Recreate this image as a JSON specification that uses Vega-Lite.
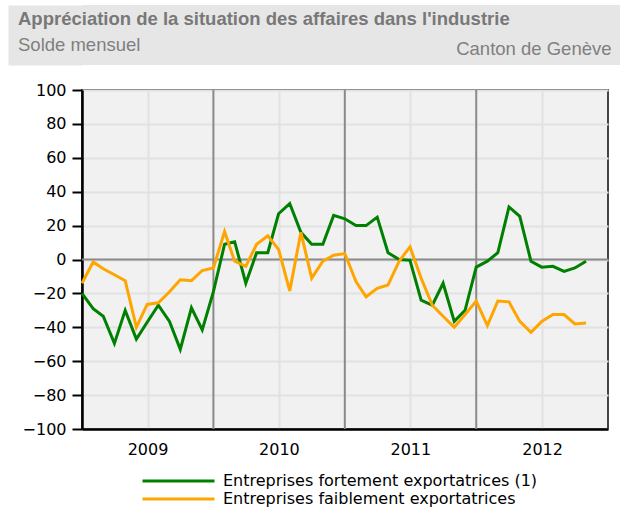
{
  "$schema": "https://vega.github.io/schema/vega-lite/v6.json",
  "padding": {"left": 10, "top": 2, "right": 0, "bottom": 0},
  "background": "white",
  "spacing": 16,
  "config": {
    "font": "DejaVu Sans",
    "view": {"stroke": null},
    "axis": {"labelOverlap": false}
  },
  "datasets": {
    "series": [
      {"mois": "2009-01-01", "fort": -20, "faible": -14},
      {"mois": "2009-02-01", "fort": -29, "faible": -1.5},
      {"mois": "2009-03-01", "fort": -33.5, "faible": -5.5},
      {"mois": "2009-04-01", "fort": -49.5, "faible": -9},
      {"mois": "2009-05-01", "fort": -30, "faible": -12.5},
      {"mois": "2009-06-01", "fort": -47, "faible": -40},
      {"mois": "2009-07-01", "fort": -37, "faible": -26.5},
      {"mois": "2009-08-01", "fort": -27, "faible": -25.5},
      {"mois": "2009-09-01", "fort": -36.5, "faible": -19},
      {"mois": "2009-10-01", "fort": -53, "faible": -12},
      {"mois": "2009-11-01", "fort": -28.5, "faible": -12.5},
      {"mois": "2009-12-01", "fort": -41.5, "faible": -6.5},
      {"mois": "2010-01-01", "fort": -19, "faible": -5},
      {"mois": "2010-02-01", "fort": 9, "faible": 16.5},
      {"mois": "2010-03-01", "fort": 10.5, "faible": -1},
      {"mois": "2010-04-01", "fort": -14, "faible": -4},
      {"mois": "2010-05-01", "fort": 4, "faible": 9},
      {"mois": "2010-06-01", "fort": 4, "faible": 14},
      {"mois": "2010-07-01", "fort": 27, "faible": 6},
      {"mois": "2010-08-01", "fort": 33, "faible": -18.5},
      {"mois": "2010-09-01", "fort": 16, "faible": 16},
      {"mois": "2010-10-01", "fort": 9, "faible": -11},
      {"mois": "2010-11-01", "fort": 9, "faible": -1},
      {"mois": "2010-12-01", "fort": 26, "faible": 2.5},
      {"mois": "2011-01-01", "fort": 24, "faible": 3.5},
      {"mois": "2011-02-01", "fort": 20, "faible": -13},
      {"mois": "2011-03-01", "fort": 20, "faible": -22},
      {"mois": "2011-04-01", "fort": 25, "faible": -17},
      {"mois": "2011-05-01", "fort": 4, "faible": -15},
      {"mois": "2011-06-01", "fort": 0, "faible": -1},
      {"mois": "2011-07-01", "fort": -0.5, "faible": 7.5},
      {"mois": "2011-08-01", "fort": -24, "faible": -11},
      {"mois": "2011-09-01", "fort": -27, "faible": -27},
      {"mois": "2011-10-01", "fort": -14, "faible": -33.5},
      {"mois": "2011-11-01", "fort": -36.5, "faible": -40},
      {"mois": "2011-12-01", "fort": -30, "faible": -32.5},
      {"mois": "2012-01-01", "fort": -4.5, "faible": -24.5},
      {"mois": "2012-02-01", "fort": -1, "faible": -39},
      {"mois": "2012-03-01", "fort": 4, "faible": -24.5},
      {"mois": "2012-04-01", "fort": 31, "faible": -25},
      {"mois": "2012-05-01", "fort": 25.5, "faible": -36.5},
      {"mois": "2012-06-01", "fort": -1, "faible": -43},
      {"mois": "2012-07-01", "fort": -4.5, "faible": -36.5},
      {"mois": "2012-08-01", "fort": -4, "faible": -32.5},
      {"mois": "2012-09-01", "fort": -7, "faible": -32.5},
      {"mois": "2012-10-01", "fort": -5, "faible": -38},
      {"mois": "2012-11-01", "fort": -1, "faible": -37.5}
    ]
  },
  "vconcat": [
    {
      "width": 540,
      "height": 60,
      "view": {"fill": "#e6e6e6", "stroke": null},
      "title": {
        "text": "Appréciation de la situation des affaires dans l'industrie",
        "subtitle": "Solde mensuel",
        "anchor": "start",
        "frame": "group",
        "orient": "top",
        "offset": -52,
        "dx": -64,
        "font": "Liberation Sans",
        "fontSize": 18.5,
        "fontWeight": "bold",
        "color": "#787878",
        "subtitleFont": "Liberation Sans",
        "subtitleFontSize": 18.5,
        "subtitleColor": "#808080",
        "subtitlePadding": 7.5
      },
      "data": {"values": [{}]},
      "mark": {"type": "point", "opacity": 0},
      "encoding": {
        "x": {
          "datum": 0,
          "type": "quantitative",
          "axis": {
            "title": "Canton de Genève",
            "labels": false,
            "ticks": false,
            "domain": false,
            "grid": false,
            "titleX": 529,
            "titleY": -10.5,
            "titleAlign": "right",
            "titleBaseline": "alphabetic",
            "titleAngle": 0,
            "titleFont": "Liberation Sans",
            "titleFontSize": 18.5,
            "titleFontWeight": "normal",
            "titleColor": "#808080"
          }
        },
        "y": {
          "datum": 0,
          "type": "quantitative",
          "axis": {
            "title": null,
            "labels": false,
            "ticks": false,
            "grid": false,
            "domain": true,
            "offset": 37,
            "domainWidth": 74,
            "domainColor": "#e6e6e6",
            "domainCap": "butt"
          }
        }
      }
    },
    {
      "width": 526,
      "height": 339,
      "view": {"fill": "#f1f1f1", "stroke": "#444444", "strokeWidth": 2},
      "layer": [
        {
          "data": {"values": [{"annee": "2010-01-01"}, {"annee": "2011-01-01"}, {"annee": "2012-01-01"}]},
          "mark": {"type": "rule", "color": "#8a8a8a", "strokeWidth": 2},
          "encoding": {
            "x": {
              "field": "annee",
              "type": "temporal",
              "scale": {"domain": [{"year": 2009, "month": 1, "date": 1, "utc": true}, {"year": 2013, "month": 1, "date": 1, "utc": true}]},
              "axis": {
                "title": null,
                "values": [
                  {"year": 2009, "month": 7, "date": 2, "utc": true},
                  {"year": 2010, "month": 7, "date": 2, "utc": true},
                  {"year": 2011, "month": 7, "date": 2, "utc": true},
                  {"year": 2012, "month": 7, "date": 2, "utc": true}
                ],
                "format": "%Y",
                "ticks": false,
                "grid": true,
                "gridColor": "#e2e2e2",
                "gridWidth": 2,
                "domainColor": "#000000",
                "domainWidth": 2.5,
                "labelFont": "DejaVu Sans",
                "labelFontSize": 16,
                "labelColor": "#000000",
                "labelPadding": 12,
                "labelOverlap": false
              }
            }
          }
        },
        {
          "data": {"values": [{"zero": 0}]},
          "mark": {"type": "rule", "color": "#8a8a8a", "strokeWidth": 2},
          "encoding": {
            "y": {
              "field": "zero",
              "type": "quantitative",
              "scale": {"domain": [-100, 100], "nice": false},
              "axis": {
                "title": " ",
                "titleX": -71,
                "titleY": 0,
                "titleAngle": 0,
                "titleAlign": "left",
                "titleBaseline": "top",
                "titleFontSize": 1,
                "values": [-100, -80, -60, -40, -20, 0, 20, 40, 60, 80, 100],
                "labelOverlap": false,
                "grid": true,
                "gridColor": "#e2e2e2",
                "gridWidth": 2,
                "tickSize": 10,
                "tickWidth": 2,
                "tickColor": "#000000",
                "domainColor": "#000000",
                "domainWidth": 2.5,
                "labelFont": "DejaVu Sans",
                "labelFontSize": 16,
                "labelColor": "#000000",
                "labelPadding": 6
              }
            }
          }
        },
        {
          "data": {"name": "series"},
          "transform": [{"fold": ["fort", "faible"], "as": ["serie", "valeur"]}],
          "mark": {"type": "line", "strokeWidth": 3},
          "encoding": {
            "x": {
              "field": "mois",
              "type": "temporal",
              "scale": {"domain": [{"year": 2009, "month": 1, "date": 1, "utc": true}, {"year": 2013, "month": 1, "date": 1, "utc": true}]},
              "axis": {
                "title": null,
                "values": [
                  {"year": 2009, "month": 7, "date": 2, "utc": true},
                  {"year": 2010, "month": 7, "date": 2, "utc": true},
                  {"year": 2011, "month": 7, "date": 2, "utc": true},
                  {"year": 2012, "month": 7, "date": 2, "utc": true}
                ],
                "format": "%Y",
                "ticks": false,
                "grid": true,
                "gridColor": "#e2e2e2",
                "gridWidth": 2,
                "domainColor": "#000000",
                "domainWidth": 2.5,
                "labelFont": "DejaVu Sans",
                "labelFontSize": 16,
                "labelColor": "#000000",
                "labelPadding": 12,
                "labelOverlap": false
              }
            },
            "y": {
              "field": "valeur",
              "type": "quantitative",
              "scale": {"domain": [-100, 100], "nice": false},
              "axis": {
                "title": " ",
                "titleX": -71,
                "titleY": 0,
                "titleAngle": 0,
                "titleAlign": "left",
                "titleBaseline": "top",
                "titleFontSize": 1,
                "values": [-100, -80, -60, -40, -20, 0, 20, 40, 60, 80, 100],
                "labelOverlap": false,
                "grid": true,
                "gridColor": "#e2e2e2",
                "gridWidth": 2,
                "tickSize": 10,
                "tickWidth": 2,
                "tickColor": "#000000",
                "domainColor": "#000000",
                "domainWidth": 2.5,
                "labelFont": "DejaVu Sans",
                "labelFontSize": 16,
                "labelColor": "#000000",
                "labelPadding": 6
              }
            },
            "color": {
              "field": "serie",
              "type": "nominal",
              "scale": {"domain": ["fort", "faible"], "range": ["#008000", "#FFA500"]},
              "legend": {
                "title": null,
                "orient": "none",
                "legendX": 59,
                "legendY": 468,
                "direction": "vertical",
                "symbolType": "stroke",
                "symbolSize": 5184,
                "symbolStrokeWidth": 3,
                "clipHeight": 16,
                "labelFont": "DejaVu Sans",
                "labelFontSize": 16,
                "labelColor": "#000000",
                "labelOffset": 7,
                "rowPadding": 2,
                "padding": 0,
                "labelLimit": 400,
                "labelExpr": "datum.label == 'fort' ? 'Entreprises fortement exportatrices (1)' : 'Entreprises faiblement exportatrices'"
              }
            }
          }
        }
      ]
    }
  ]
}
